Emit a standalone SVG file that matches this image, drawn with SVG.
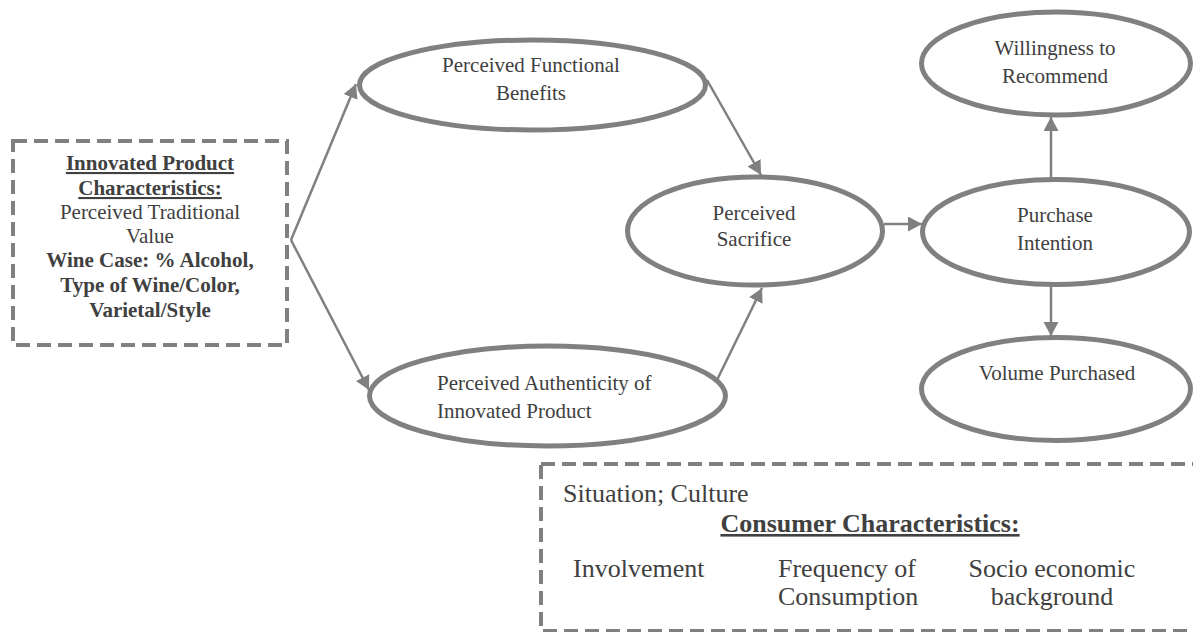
<svg xmlns="http://www.w3.org/2000/svg" width="1193" height="632" viewBox="0 0 1193 632">
<style>
.node ellipse{fill:#fff;stroke:#808080;stroke-width:5}
.box{fill:#fff;stroke:#808080;stroke-width:4;stroke-dasharray:14 7}
text{font-family:"Liberation Serif","Times New Roman",serif;fill:#404040;font-size:21px}
.c{text-anchor:middle}
.b{font-weight:bold}
.u{text-decoration:underline}
.big{font-size:26px}
.conn line{stroke:#808080;stroke-width:2.5;marker-end:url(#ah)}
</style>
<defs>
<marker id="ah" markerUnits="userSpaceOnUse" markerWidth="16" markerHeight="16" refX="14" refY="7.5" orient="auto">
<path d="M0,0 L14,7.5 L0,15 z" fill="#808080"/>
</marker>
</defs>
<rect width="1193" height="632" fill="#fff"/>
<g id="innovated-product">
<rect class="box" x="13" y="141" width="274" height="204"/>
<text class="c b u" x="150" y="170">Innovated Product</text>
<text class="c b u" x="150" y="195">Characteristics:</text>
<text class="c" x="150" y="219">Perceived Traditional</text>
<text class="c" x="150" y="243">Value</text>
<text class="c b" x="150" y="267">Wine Case: % Alcohol,</text>
<text class="c b" x="150" y="292">Type of Wine/Color,</text>
<text class="c b" x="150" y="317">Varietal/Style</text>
</g>
<g id="consumer-characteristics">
<rect class="box" x="541" y="464" width="670" height="167"/>
<text class="big" x="563" y="502">Situation; Culture</text>
<text class="big c b u" x="870" y="532">Consumer Characteristics:</text>
<text class="big" x="573" y="577">Involvement</text>
<text class="big" x="778" y="577">Frequency of</text>
<text class="big" x="778" y="605">Consumption</text>
<text class="big c" x="1052" y="577">Socio economic</text>
<text class="big c" x="1052" y="605">background</text>
</g>
<g class="node" id="functional-benefits">
<ellipse cx="532.5" cy="85" rx="173" ry="45"/>
<text class="c" x="531" y="72">Perceived Functional</text>
<text class="c" x="531" y="100">Benefits</text>
</g>
<g class="node" id="authenticity">
<ellipse cx="547.5" cy="396" rx="178" ry="50"/>
<text x="437" y="390">Perceived Authenticity of</text>
<text x="437" y="418">Innovated Product</text>
</g>
<g class="node" id="sacrifice">
<ellipse cx="755" cy="231" rx="127.5" ry="54"/>
<text class="c" x="754" y="220">Perceived</text>
<text class="c" x="754" y="246">Sacrifice</text>
</g>
<g class="node" id="purchase-intention">
<ellipse cx="1056" cy="232" rx="133.5" ry="52.5"/>
<text class="c" x="1055" y="222">Purchase</text>
<text class="c" x="1055" y="250">Intention</text>
</g>
<g class="node" id="willingness">
<ellipse cx="1056" cy="63.5" rx="134.5" ry="51.5"/>
<text class="c" x="1055" y="55">Willingness to</text>
<text class="c" x="1055" y="83">Recommend</text>
</g>
<g class="node" id="volume">
<ellipse cx="1056" cy="389" rx="134.5" ry="51.5"/>
<text class="c" x="1057" y="380">Volume Purchased</text>
</g>
<g class="conn" id="connectors">
<line x1="291" y1="240" x2="356" y2="84"/>
<line x1="291" y1="240" x2="369" y2="390"/>
<line x1="707" y1="80" x2="761" y2="175"/>
<line x1="717" y1="380" x2="762" y2="288"/>
<line x1="884" y1="224" x2="922" y2="224"/>
<line x1="1051" y1="178" x2="1051" y2="117"/>
<line x1="1051" y1="286" x2="1051" y2="336"/>
</g>
</svg>
